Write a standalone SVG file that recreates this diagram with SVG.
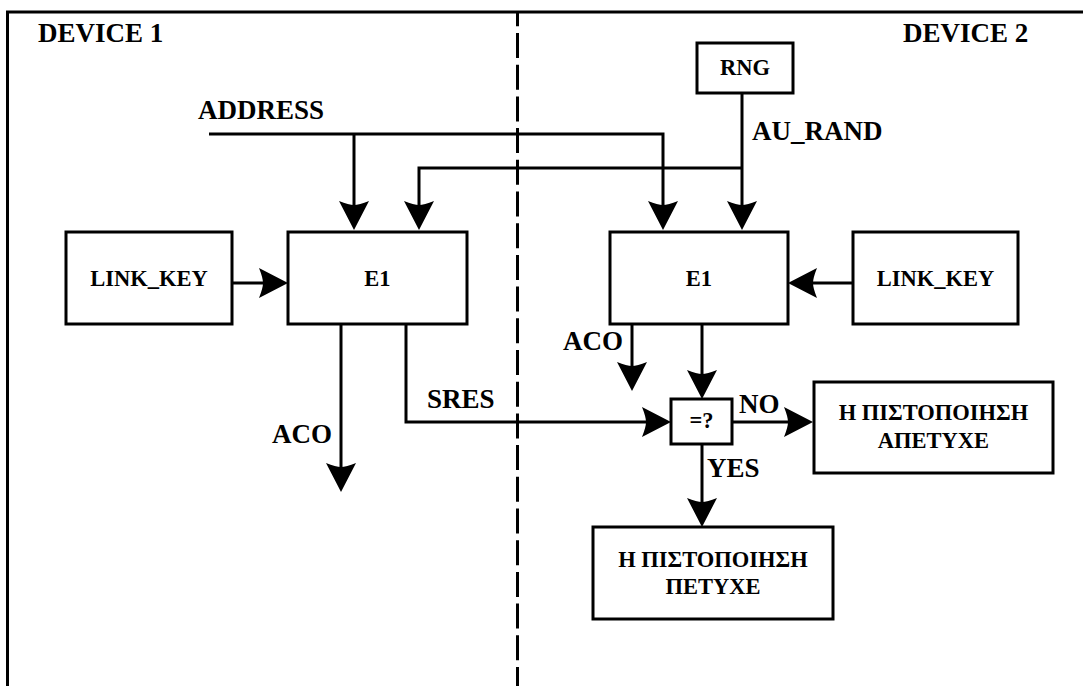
<svg xmlns="http://www.w3.org/2000/svg" width="1083" height="686" viewBox="0 0 1083 686">
<style>
.box{fill:#fff;stroke:#000;stroke-width:3}
.ln{fill:none;stroke:#000;stroke-width:3}
.lbl{font-family:"Liberation Serif","Times New Roman",serif;font-weight:bold;font-size:27px;fill:#000}
.bt{font-family:"Liberation Serif","Times New Roman",serif;font-weight:bold;font-size:22.5px;fill:#000;text-anchor:middle}
</style>
<defs>
<marker id="ah" viewBox="-31 -16 33 32" markerWidth="33" markerHeight="32" refX="-10" refY="0" orient="auto" markerUnits="userSpaceOnUse">
<path d="M0,0 L-29,-15 Q-25,-5 -25,0 Q-25,5 -29,15 Z" fill="#000"/>
</marker>
</defs>
<rect width="1083" height="686" fill="#fff"/>
<g id="frame">
<path d="M7.5,686 V12 H1083" class="ln"/>
<line x1="517.5" y1="12" x2="517.5" y2="686" stroke="#000" stroke-width="3" stroke-dasharray="25 6.7" stroke-dashoffset="10.7"/>
<text x="38" y="42" class="lbl">DEVICE 1</text>
<text x="903" y="42" class="lbl">DEVICE 2</text>
</g>
<g id="connectors">
<path d="M209,134 H663 V220" class="ln" marker-end="url(#ah)"/>
<path d="M354,134 V220" class="ln" marker-end="url(#ah)"/>
<path d="M742,93 V220" class="ln" marker-end="url(#ah)"/>
<path d="M742,168 H419 V220" class="ln" marker-end="url(#ah)"/>
<path d="M232,283 H278" class="ln" marker-end="url(#ah)"/>
<path d="M853,283 H798" class="ln" marker-end="url(#ah)"/>
<path d="M341,324 V482" class="ln" marker-end="url(#ah)"/>
<path d="M406,324 V422 H661" class="ln" marker-end="url(#ah)"/>
<path d="M632,324 V381" class="ln" marker-end="url(#ah)"/>
<path d="M702,324 V389" class="ln" marker-end="url(#ah)"/>
<path d="M732,422 H803" class="ln" marker-end="url(#ah)"/>
<path d="M702,444 V517" class="ln" marker-end="url(#ah)"/>
<text x="198" y="119" class="lbl">ADDRESS</text>
<text x="752" y="140" class="lbl">AU_RAND</text>
<text x="272" y="443" class="lbl">ACO</text>
<text x="427" y="408" class="lbl">SRES</text>
<text x="563" y="350" class="lbl">ACO</text>
<text x="739" y="413" class="lbl">NO</text>
<text x="707" y="477" class="lbl">YES</text>
</g>
<g id="rng">
<rect x="697" y="43" width="96" height="50" class="box"/>
<text x="745" y="75" class="bt">RNG</text>
</g>
<g id="linkkey1">
<rect x="66" y="232" width="166" height="92" class="box"/>
<text x="149" y="286" class="bt">LINK_KEY</text>
</g>
<g id="e1a">
<rect x="288" y="232" width="179" height="92" class="box"/>
<text x="377.5" y="286" class="bt">E1</text>
</g>
<g id="e1b">
<rect x="610" y="232" width="178" height="92" class="box"/>
<text x="699" y="286" class="bt">E1</text>
</g>
<g id="linkkey2">
<rect x="853" y="232" width="165" height="92" class="box"/>
<text x="935.5" y="286" class="bt">LINK_KEY</text>
</g>
<g id="compare">
<rect x="671" y="399" width="61" height="45" class="box"/>
<text x="701.5" y="428" class="bt">=?</text>
</g>
<g id="fail">
<rect x="814" y="382" width="239" height="91" class="box"/>
<text x="933.5" y="420" class="bt">Η ΠΙΣΤΟΠΟΙΗΣΗ</text>
<text x="933.5" y="448" class="bt">ΑΠΕΤΥΧΕ</text>
</g>
<g id="success">
<rect x="593" y="527" width="240" height="92" class="box"/>
<text x="713" y="567" class="bt">Η ΠΙΣΤΟΠΟΙΗΣΗ</text>
<text x="713" y="594" class="bt">ΠΕΤΥΧΕ</text>
</g>
</svg>
